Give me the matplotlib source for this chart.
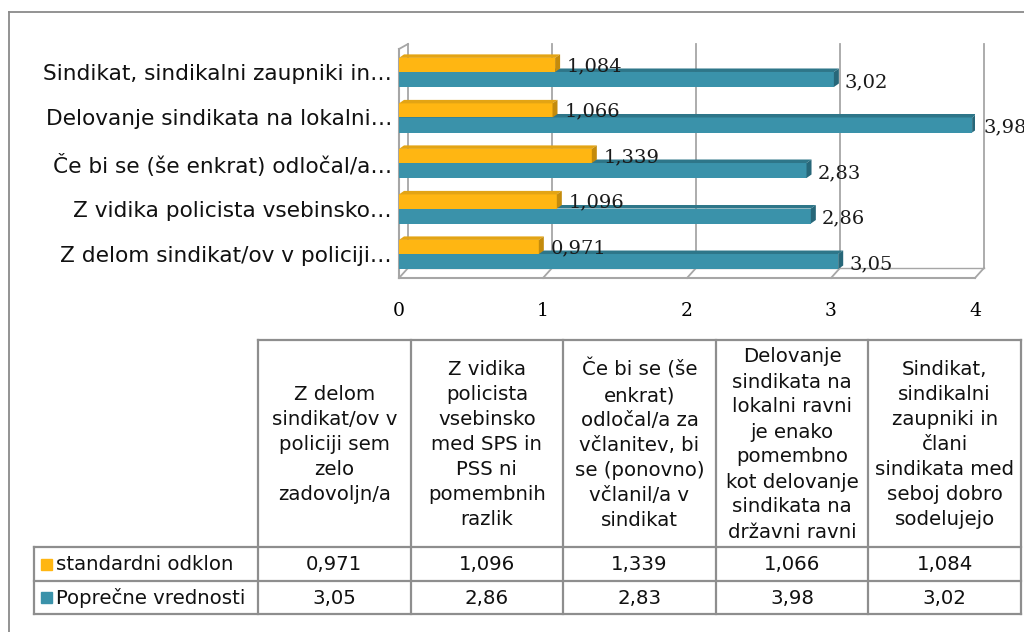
import numpy as np
import matplotlib.pyplot as plt
from matplotlib.patches import Polygon, Rectangle

# data
short_labels = ['Z delom sindikat/ov v policiji…',
                'Z vidika policista vsebinsko…',
                'Če bi se (še enkrat) odločal/a…',
                'Delovanje sindikata na lokalni…',
                'Sindikat, sindikalni zaupniki in…']
header_labels = ['Z delom\nsindikat/ov v\npoliciji sem\nzelo\nzadovoljn/a',
                 'Z vidika\npolicista\nvsebinsko\nmed SPS in\nPSS ni\npomembnih\nrazlik',
                 'Če bi se (še\nenkrat)\nodločal/a za\nvčlanitev, bi\nse (ponovno)\nvčlanil/a v\nsindikat',
                 'Delovanje\nsindikata na\nlokalni ravni\nje enako\npomembno\nkot delovanje\nsindikata na\ndržavni ravni',
                 'Sindikat,\nsindikalni\nzaupniki in\nčlani\nsindikata med\nseboj dobro\nsodelujejo']
series_names = ['standardni odklon', 'Poprečne vrednosti']
std_dev = [0.971, 1.096, 1.339, 1.066, 1.084]
mean_val = [3.05, 2.86, 2.83, 3.98, 3.02]
x_ticks = [0, 1, 2, 3, 4]

orange = '#FFB612'
orange_top = '#E3A414'
orange_side = '#C48B0C'
teal = '#3A92AA'
teal_top = '#2E7689'
teal_side = '#276779'
grid_c = '#A6A6A6'
line_c = '#8E8E8E'

sans = 'DejaVu Sans'
serif = 'DejaVu Serif'


def fmt(v, d):
    return f'{v:.{d}f}'.replace('.', ',')


W, H = 1024, 632
fig = plt.figure(figsize=(W / 100, H / 100), dpi=100)

# bar chart area (pixel layout)
x0_px, ppu = 399, 144.0
y_bot_px, y_top_px = 278, 44
ymin, ymax = -0.527, 4.615
ax = fig.add_axes([x0_px / W, 1 - y_bot_px / H, 4 * ppu / W, (y_bot_px - y_top_px) / H])
ax.set_xlim(0, 4)
ax.set_ylim(ymin, ymax)
for s in ax.spines.values():
    s.set_visible(False)

# 3d walls
dxw, dyw = 9 / ppu, 10 / 45.5
for k in x_ticks:
    ax.plot([k + dxw, k + dxw], [ymin + dyw, ymax], color=grid_c, lw=1.3, zorder=0, clip_on=False)
    ax.plot([k, k + dxw], [ymin, ymin + dyw], color=grid_c, lw=1.3, zorder=0, clip_on=False)
ax.plot([0, 4], [ymin, ymin], color=grid_c, lw=1.5, clip_on=False, zorder=0)
ax.plot([dxw, 4 + dxw], [ymin + dyw, ymin + dyw], color=grid_c, lw=1.0, clip_on=False, zorder=0)
ax.plot([0, 0], [ymin, ymax - dyw * 0.5], color=grid_c, lw=1.5, clip_on=False, zorder=0)
ax.plot([0, dxw], [ymax - dyw * 0.5, ymax], color=grid_c, lw=1.3, clip_on=False, zorder=0)

# bars with a bit of depth
dxb, dyb = 5 / ppu, 3.5 / 45.5
hb = 0.31
ypos = np.arange(len(short_labels))


def bar3d(v, y0, h, front, top, side, z):
    ax.barh(y0, v, height=h, align='edge', color=front, zorder=z)
    ax.add_patch(Polygon([(0, y0 + h), (v, y0 + h), (v + dxb, y0 + h + dyb), (dxb, y0 + h + dyb)],
                         closed=True, color=top, zorder=z, lw=0))
    ax.add_patch(Polygon([(v, y0), (v + dxb, y0 + dyb), (v + dxb, y0 + h + dyb), (v, y0 + h)],
                         closed=True, color=side, zorder=z, lw=0))


for i in ypos:
    bar3d(mean_val[i], i - hb - 0.02, hb + 0.02, teal, teal_top, teal_side, 2)
    bar3d(std_dev[i], i, hb, orange, orange_top, orange_side, 3)
    ax.annotate(fmt(std_dev[i], 3), xy=(std_dev[i], i + hb / 2), xytext=(12, -1),
                textcoords='offset pixels', va='center', ha='left', fontsize=14,
                family=serif, color='#1a1a1a', zorder=5, annotation_clip=False)
    ax.annotate(fmt(mean_val[i], 2), xy=(mean_val[i], i - hb / 2), xytext=(11, -3),
                textcoords='offset pixels', va='center', ha='left', fontsize=14,
                family=serif, color='#1a1a1a', zorder=5, annotation_clip=False)

ax.set_xticks(x_ticks)
ax.set_xticklabels([str(t) for t in x_ticks], family=serif, fontsize=13.5)
ax.set_yticks(ypos)
ax.set_yticklabels(short_labels, family=sans, fontsize=15.6, color='#111111')
ax.tick_params(axis='x', length=0, pad=17)
ax.tick_params(axis='y', length=0, pad=5)

# overlay in pixel coordinates for frame and data table
ov = fig.add_axes([0, 0, 1, 1])
ov.set_xlim(0, W)
ov.set_ylim(H, 0)
ov.axis('off')
ov.patch.set_alpha(0)

ov.plot([9, 9], [12, H], color='#8A8A8A', lw=1.3)
ov.plot([9, W], [12, 12], color='#8A8A8A', lw=1.3)

col_edges = np.linspace(258, 1021, len(header_labels) + 1)
row_edges = [340, 547, 581, 614]
tl = 34
ov.plot([col_edges[0], col_edges[-1]], [row_edges[0], row_edges[0]], color=line_c, lw=1.6)
for r in row_edges[1:]:
    ov.plot([tl, col_edges[-1]], [r, r], color=line_c, lw=1.6)
for c in col_edges:
    ov.plot([c, c], [row_edges[0], row_edges[-1]], color=line_c, lw=1.6)
ov.plot([tl, tl], [row_edges[1], row_edges[-1]], color=line_c, lw=1.6)

for j, hdr in enumerate(header_labels):
    cx = (col_edges[j] + col_edges[j + 1]) / 2
    ov.text(cx, (row_edges[0] + row_edges[1]) / 2 + 1, hdr, ha='center', va='center',
            family=sans, fontsize=14.2, linespacing=1.4, color='#111111')
    ov.text(cx, (row_edges[1] + row_edges[2]) / 2 + 1, fmt(std_dev[j], 3), ha='center', va='center',
            family=sans, fontsize=14.2, color='#111111')
    ov.text(cx, (row_edges[2] + row_edges[3]) / 2 + 1, fmt(mean_val[j], 2), ha='center', va='center',
            family=sans, fontsize=14.2, color='#111111')

for k, (name, col) in enumerate(zip(series_names, [orange, teal])):
    yc = (row_edges[k + 1] + row_edges[k + 2]) / 2
    ov.add_patch(Rectangle((41, yc - 5.5), 11, 11, color=col))
    ov.text(56, yc + 1, name, ha='left', va='center', family=sans, fontsize=14.2, color='#111111')

fig.savefig('out.png', dpi=100)
